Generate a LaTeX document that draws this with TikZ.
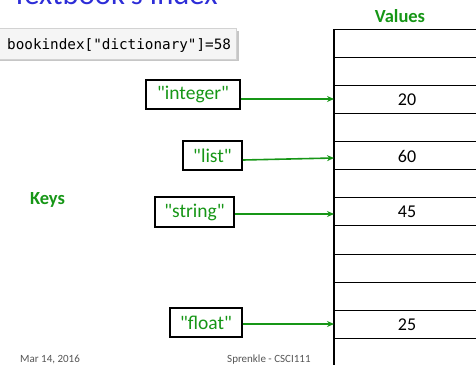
\documentclass[tikz,border=0pt]{standalone}
\usepackage{fontspec}
\setmainfont{Carlito}
\newfontfamily\keyfont{Carlito}
\newfontfamily\codefont{DejaVu Sans Mono}
\usetikzlibrary{arrows.meta}
\definecolor{keygreen}{RGB}{22,150,22}
\definecolor{titleblue}{RGB}{45,45,215}
\definecolor{footgray}{RGB}{85,85,85}
\tikzset{
  keybox/.style={draw=black, line width=1.8pt, fill=white, text=keygreen, inner sep=0pt,
    font=\keyfont\fontsize{19.5}{22}\selectfont},
  keyarrow/.style={draw=keygreen, line width=1.6pt, -{Stealth[length=7pt,width=6pt]}},
  rowline/.style={draw=black, line width=0.8pt},
  valtext/.style={font=\fontsize{18}{21}\selectfont, text=black},
  headtext/.style={font=\bfseries\fontsize{18.5}{21}\selectfont, text=keygreen},
  foottext/.style={font=\fontsize{11}{13}\selectfont, text=footgray}
}
\begin{document}
\begin{tikzpicture}[x=1pt,y=-1pt]
\useasboundingbox (0,0) rectangle (476,364);
\clip (0,0) rectangle (476,364);
% title (cut off at top)
\node[anchor=base west, inner sep=0pt, text=titleblue, font=\fontsize{30.6}{34}\selectfont] (title) at (12,5) {Textbook's Index};
% code box
\fill[gray!45] (0,31) rectangle (238.5,61);
\node[draw=gray!35, fill=gray!8, line width=0.6pt, minimum width=240pt, minimum height=31pt, inner sep=0pt] (codebox) at (116,43.5) {};
\node[anchor=base west, inner sep=0pt, font=\codefont\fontsize{14.3}{17}\selectfont] (code) at (7,49) {bookindex["dictionary"]=58};
% values table
\node[headtext] (valhead) at (400,16) {Values};
\foreach \yy in {29,57,85,113,141,169,197,225,254,282,310,338}{
  \draw[rowline] (334,\yy) -- (480,\yy);
}
\draw[black, line width=1.8pt] (334,29) -- (334,370);
\node[valtext] (v20) at (407,100) {20};
\node[valtext] (v60) at (407,156) {60};
\node[valtext] (v45) at (407,212) {45};
\node[valtext] (v25) at (407,325) {25};
\coordinate (t20) at (334,99);
\coordinate (t60) at (334,158);
\coordinate (t45) at (334,214);
\coordinate (t25) at (334,324);
% keys
\node[headtext] (keyshead) at (47.5,200) {Keys};
\node[keybox, minimum width=94pt, minimum height=29pt] (kint) at (193,94.5) {"integer"};
\node[keybox, minimum width=59pt, minimum height=29pt] (klist) at (212.5,155.5) {"list"};
\node[keybox, minimum width=79pt, minimum height=30pt] (kstr) at (194.5,212) {"string"};
\node[keybox, minimum width=72pt, minimum height=29pt] (kfloat) at (206,322.5) {"float"};
\draw[keyarrow] ([yshift=-4.5pt]kint.east) -- (t20);
\draw[keyarrow] ([yshift=-4.5pt]klist.east) -- (t60);
\draw[keyarrow] ([yshift=-2pt]kstr.east) -- (t45);
\draw[keyarrow] ([yshift=-1.5pt]kfloat.east) -- (t25);
% footer
\node[foottext, anchor=base west, inner sep=0pt] (date) at (20,362) {Mar 14, 2016};
\node[foottext, anchor=base west, inner sep=0pt] (author) at (227,362) {Sprenkle - CSCI111};
\end{tikzpicture}
\end{document}
